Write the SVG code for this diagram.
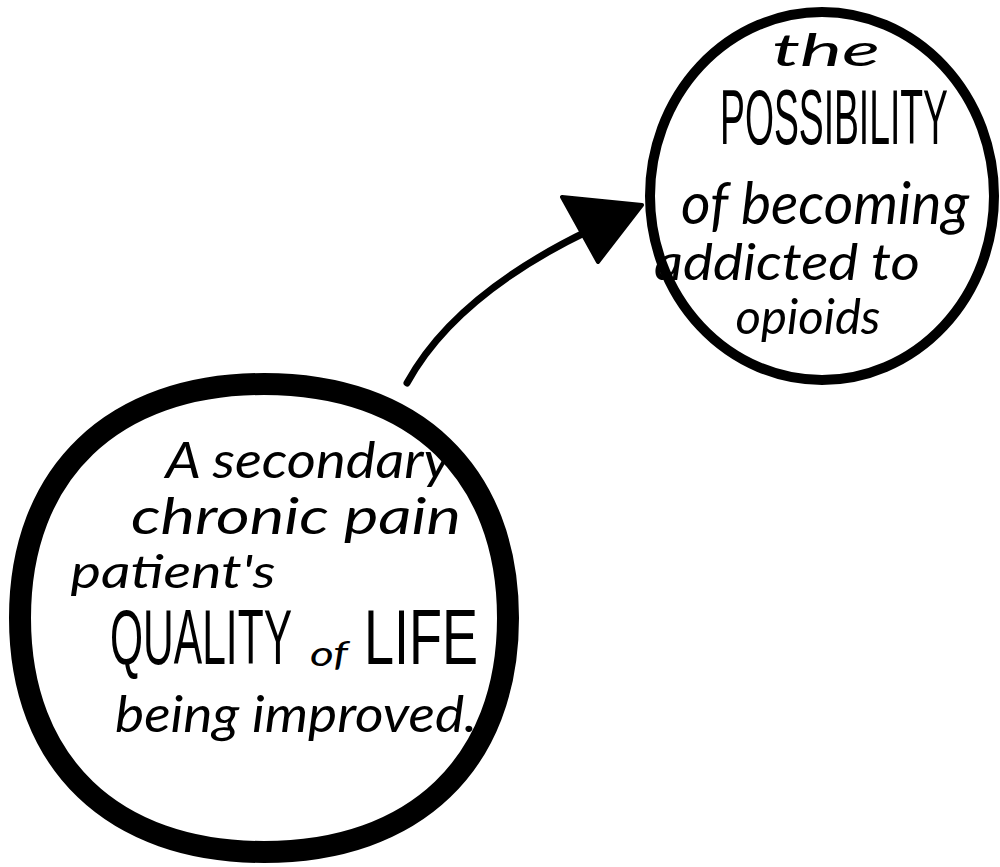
<svg xmlns="http://www.w3.org/2000/svg" width="1000" height="867" viewBox="0 0 1000 867">
<style>
.node{fill:#fff;stroke:#000}
.t{font-family:"Lato","Liberation Sans",sans-serif;fill:#000}
.hand{font-style:italic}
.caps{font-family:"Liberation Sans Narrow","Liberation Sans",sans-serif;font-weight:400}
.conn{fill:none;stroke:#000;stroke-width:7;stroke-linecap:round}
.head{fill:#000;stroke:#000;stroke-width:4;stroke-linejoin:round}
</style>
<rect width="1000" height="867" fill="#fff"/>
<g id="connectors">
<path class="conn" d="M407,383 Q455,295 590,230"/>
<polygon class="head" points="562,197 642,205 598,262"/>
</g>
<g id="node-possibility">
<ellipse class="node" cx="822" cy="196" rx="172" ry="184" stroke-width="10"/>
<text class="t hand" x="826" y="66" font-size="44" text-anchor="middle" textLength="108" lengthAdjust="spacingAndGlyphs">the</text>
<text class="t caps" x="834" y="144" font-size="78" text-anchor="middle" textLength="228" lengthAdjust="spacingAndGlyphs">POSSIBILITY</text>
<text class="t hand" x="825" y="224" font-size="58" text-anchor="middle" textLength="288" lengthAdjust="spacingAndGlyphs">of becoming</text>
<text class="t hand" x="787" y="280" font-size="50" text-anchor="middle" textLength="266" lengthAdjust="spacingAndGlyphs">addicted to</text>
<text class="t hand" x="808" y="334" font-size="48" text-anchor="middle" textLength="145" lengthAdjust="spacingAndGlyphs">opioids</text>
</g>
<g id="node-quality">
<path class="node" stroke-width="22" d="M264,384 C415,384 508,473 508,618 C508,763 415,852 264,852 C113,852 20,763 20,618 C20,473 113,384 264,384 Z"/>
<text class="t hand" x="308" y="478" font-size="50" text-anchor="middle" textLength="285" lengthAdjust="spacingAndGlyphs">A secondary</text>
<text class="t hand" x="296" y="534" font-size="50" text-anchor="middle" textLength="330" lengthAdjust="spacingAndGlyphs">chronic pain</text>
<text class="t hand" x="173" y="588" font-size="46" text-anchor="middle" textLength="205" lengthAdjust="spacingAndGlyphs">patient's</text>
<text class="t caps" x="110" y="664" font-size="78" textLength="182" lengthAdjust="spacingAndGlyphs">QUALITY</text>
<text class="t hand" x="310" y="666" font-size="34" textLength="38" lengthAdjust="spacingAndGlyphs">of</text>
<text class="t caps" x="364" y="664" font-size="78" textLength="114" lengthAdjust="spacingAndGlyphs">LIFE</text>
<text class="t hand" x="296" y="732" font-size="50" text-anchor="middle" textLength="362" lengthAdjust="spacingAndGlyphs">being improved.</text>
</g>
</svg>
